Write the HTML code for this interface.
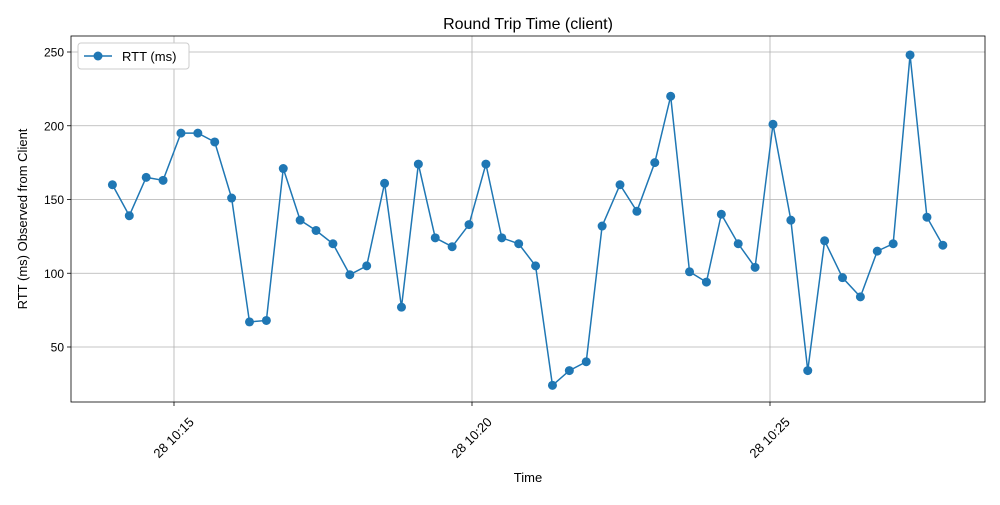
<!DOCTYPE html>
<html><head><meta charset="utf-8"><style>
body{margin:0;background:#fff}
svg{font-family:"Liberation Sans","DejaVu Sans",sans-serif}
</style></head><body>
<svg id="c" width="1000" height="500"></svg>
<script>
// seconds relative to 10:15:00
const times=[-62,-45,-28,-11,7,24,41,58,76,93,110,127,143,160,177,194,212,229,246,263,280,297,314,330,347,364,381,398,415,431,449,466,484,500,519,536,551,568,585,603,621,638,655,673,691,708,724,741,758,774];
const rtt=[160,139,165,163,195,195,189,151,67,68,171,136,129,120,99,105,161,77,174,124,118,133,174,124,120,105,24,34,40,132,160,142,175,220,101,94,140,120,104,201,136,34,122,97,84,115,120,248,138,119];
const yTicks=[50,100,150,200,250];
const xTickSecs=[0,300,600];
const xTickLabels=["28 10:15","28 10:20","28 10:25"];
const L=71,R=985,T=36,B=402;
const xs=s=>174+s*298/300;
const ys=v=>347-(v-50)*295/200;
const svg=document.getElementById('c');
const NS='http://www.w3.org/2000/svg';
function mk(tag,a,parent){const e=document.createElementNS(NS,tag);for(const k in a)e.setAttribute(k,a[k]);(parent||svg).appendChild(e);return e;}
yTicks.forEach(v=>{const g=mk('line',{x1:L,x2:R,y1:ys(v),y2:ys(v),stroke:'#b0b0b0','stroke-width':0.8});


const t=mk('line',{x1:L-4,x2:L,y1:ys(v),y2:ys(v),stroke:'#000','stroke-width':0.8});


const l=mk('text',{x:L-7,y:ys(v)+4.5,'text-anchor':'end','font-size':12});l.textContent=v;

});
xTickSecs.forEach((s,i)=>{const x=xs(s);const g=mk('line',{x1:x,x2:x,y1:T,y2:B,stroke:'#b0b0b0','stroke-width':0.8});


const t=mk('line',{x1:x,x2:x,y1:B,y2:B+4,stroke:'#000','stroke-width':0.8});


const cy=438;
const l=mk('text',{x:x,y:cy+4,'text-anchor':'middle','font-size':13,transform:`rotate(-45 ${x} ${cy})`});l.textContent=xTickLabels[i];

});
const pts=times.map((s,i)=>xs(s)+','+ys(rtt[i])).join(' ');
const pl=mk('polyline',{points:pts,fill:'none',stroke:'#1f77b4','stroke-width':1.5});


times.forEach((s,i)=>{const c=mk('circle',{cx:xs(s),cy:ys(rtt[i]),r:4.5,fill:'#1f77b4'});

});
const fr=mk('rect',{x:L,y:T,width:R-L,height:B-T,fill:'none',stroke:'#000','stroke-width':0.8});


const ti=mk('text',{x:(L+R)/2,y:29,'text-anchor':'middle','font-size':16});ti.textContent='Round Trip Time (client)';


const xt=mk('text',{x:(L+R)/2,y:482,'text-anchor':'middle','font-size':13});xt.textContent='Time';


const yt=mk('text',{x:27,y:(T+B)/2,'text-anchor':'middle','font-size':13,transform:`rotate(-90 27 ${(T+B)/2})`});yt.textContent='RTT (ms) Observed from Client';


const lg=mk('g',{});


mk('rect',{x:78,y:43,width:111,height:26,rx:3,fill:'#fff',stroke:'#ccc','stroke-width':1},lg);
mk('line',{x1:84,x2:112,y1:56,y2:56,stroke:'#1f77b4','stroke-width':1.5},lg);
mk('circle',{cx:98,cy:56,r:4.5,fill:'#1f77b4'},lg);
const lt=mk('text',{x:122,y:61,'font-size':13},lg);lt.textContent='RTT (ms)';


</script>
</body></html>
